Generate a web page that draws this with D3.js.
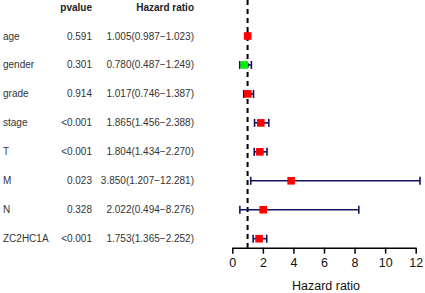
<!DOCTYPE html>
<html>
<head>
<meta charset="utf-8">
<script src="https://cdn.jsdelivr.net/npm/d3@7"></script>
<style>
  body { margin: 0; background: #fff; }
  text { font-family: "Liberation Sans", Arial, sans-serif; }
</style>
</head>
<body>
<div id="chart"></div>
<script>
// forest plot data
const variables = ["age", "gender", "grade", "stage", "T", "M", "N", "ZC2HC1A"];
const pvalues = ["0.591", "0.301", "0.914", "<0.001", "<0.001", "0.023", "0.328", "<0.001"];
const hr = [1.005, 0.780, 1.017, 1.865, 1.804, 3.850, 2.022, 1.753];
const hrLow = [0.987, 0.487, 0.746, 1.456, 1.434, 1.207, 0.494, 1.365];
const hrHigh = [1.023, 1.249, 1.387, 2.388, 2.270, 12.281, 8.276, 2.252];
const xTicks = [0, 2, 4, 6, 8, 10, 12];

const width = 425, height = 293;
const svg = d3.select("#chart").append("svg")
    .attr("width", width)
    .attr("height", height);

const rows = variables.map((v, i) => ({
    name: v, p: pvalues[i], hr: hr[i], low: hrLow[i], high: hrHigh[i]
}));

const y = d3.scalePoint()
    .domain(variables)
    .range([36, 238.7]);

const x = d3.scaleLinear()
    .domain([0, 12])
    .range([232.3, 415.7]);

const axisY = 247.7;

// headers
svg.append("text").attr("x", 92).attr("y", 11)
    .attr("text-anchor", "end").attr("font-size", 10).attr("font-weight", "bold")
    .attr("fill", "#222").text("pvalue");
svg.append("text").attr("x", 194).attr("y", 11)
    .attr("text-anchor", "end").attr("font-size", 10).attr("font-weight", "bold")
    .attr("fill", "#222").text("Hazard ratio");

const tbl = svg.append("g").attr("font-size", 10).attr("fill", "#333");
tbl.selectAll(".name").data(rows).enter().append("text")
    .attr("x", 3).attr("y", d => y(d.name) + 3.5)
    .text(d => d.name);
tbl.selectAll(".pv").data(rows).enter().append("text")
    .attr("x", 92).attr("y", d => y(d.name) + 3.5)
    .attr("text-anchor", "end")
    .text(d => d.p);
tbl.selectAll(".hr").data(rows).enter().append("text")
    .attr("x", 194).attr("y", d => y(d.name) + 3.5)
    .attr("text-anchor", "end")
    .text(d => d.hr.toFixed(3) + "(" + d.low.toFixed(3) + "\u2212" + d.high.toFixed(3) + ")");

// reference line at HR = 1
svg.append("line")
    .attr("x1", x(1)).attr("x2", x(1))
    .attr("y1", 0).attr("y2", axisY)
    .attr("stroke", "#000").attr("stroke-width", 2)
    .attr("stroke-dasharray", "5,4");

// error bars
const bars = svg.append("g").attr("stroke", "#14145a").attr("stroke-width", 1.6);
bars.selectAll(".ci").data(rows).enter().append("line")
    .attr("x1", d => x(d.low)).attr("x2", d => x(d.high))
    .attr("y1", d => y(d.name)).attr("y2", d => y(d.name));
bars.selectAll(".capl").data(rows).enter().append("line")
    .attr("x1", d => x(d.low)).attr("x2", d => x(d.low))
    .attr("y1", d => y(d.name) - 4).attr("y2", d => y(d.name) + 4);
bars.selectAll(".caph").data(rows).enter().append("line")
    .attr("x1", d => x(d.high)).attr("x2", d => x(d.high))
    .attr("y1", d => y(d.name) - 4).attr("y2", d => y(d.name) + 4);

// point estimates
svg.selectAll(".pt").data(rows).enter().append("rect")
    .attr("x", d => x(d.hr) - 3.8).attr("y", d => y(d.name) - 3.8)
    .attr("width", 7.6).attr("height", 7.6)
    .attr("fill", d => d.hr < 1 ? "#00ee00" : "#ff0000");

// x axis
const axis = svg.append("g")
    .attr("transform", "translate(0," + axisY + ")")
    .call(d3.axisBottom(x).tickValues(xTicks).tickSize(6).tickSizeOuter(0));
axis.select(".domain").attr("stroke-width", 1.5);
axis.selectAll(".tick line").attr("stroke-width", 1.5);
axis.selectAll(".tick text").attr("font-size", 12.5).attr("fill", "#111")
    .attr("dy", "0.85em")
    .style("font-family", "'Liberation Sans', Arial, sans-serif");

svg.append("text")
    .attr("x", 326).attr("y", 290)
    .attr("text-anchor", "middle").attr("font-size", 12.5).attr("fill", "#111")
    .text("Hazard ratio");
</script>
</body>
</html>
